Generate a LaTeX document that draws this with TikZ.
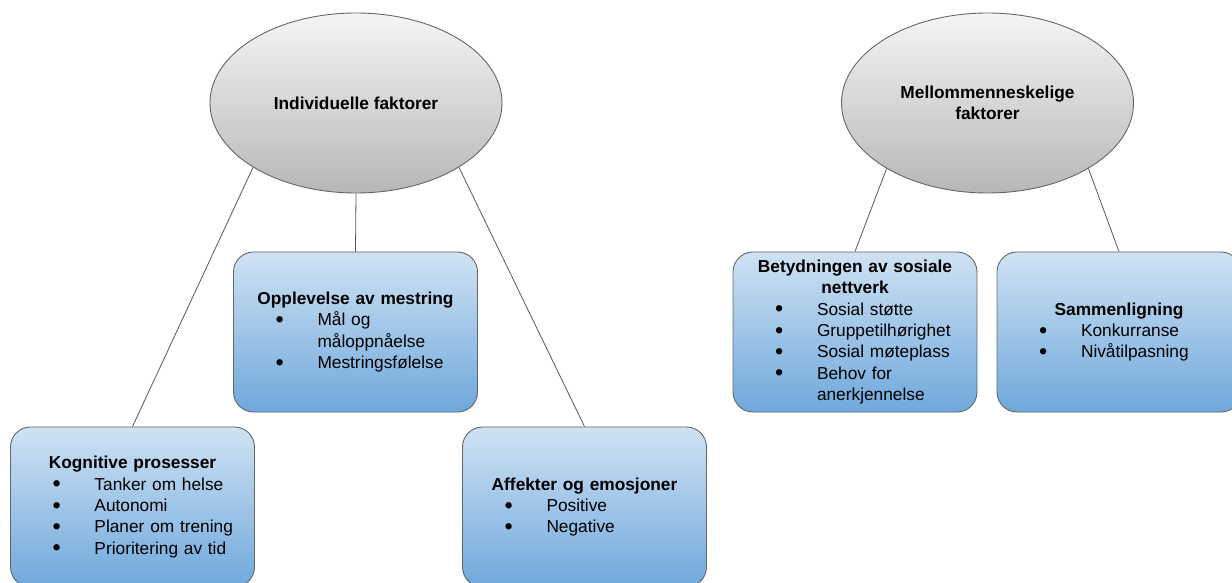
\documentclass[tikz,border=0pt]{standalone}
\usepackage{fontspec}
\setmainfont{Liberation Sans}
\usetikzlibrary{shapes.geometric}
\newcommand{\diagFont}{\fontsize{17.3pt}{21.4pt}\selectfont}
\newcommand{\boxTitle}[1]{\makebox[244pt][c]{\bfseries #1}}
\newcommand{\boxItem}[1]{\makebox[84pt][l]{\hspace{42pt}\raisebox{-1.6pt}{\scalebox{1.35}{\textbullet}}}#1}
\newcommand{\boxMore}[1]{\makebox[84pt][l]{}#1}
\tikzset{
  factorEllipse/.style={ellipse,draw=borderColor,line width=0.9pt,top color=ellTop,bottom color=ellBottom,
    minimum width=292pt,minimum height=180pt,inner sep=0pt,align=center,font=\diagFont\bfseries},
  factorBox/.style={rectangle,rounded corners=20pt,draw=borderColor,line width=0.9pt,top color=boxTop,bottom color=boxBottom,
    minimum height=160pt,text width=244pt,inner sep=0pt,align=left,font=\diagFont},
  link/.style={draw=lineColor,line width=0.8pt}
}
\begin{document}
\begin{tikzpicture}[x=1pt,y=1pt]
\definecolor{fillColor}{RGB}{255,255,255}
\definecolor{borderColor}{RGB}{102,102,102}
\definecolor{lineColor}{RGB}{89,89,89}
\definecolor{ellTop}{RGB}{245,245,245}
\definecolor{ellBottom}{RGB}{183,183,183}
\definecolor{boxTop}{RGB}{207,226,243}
\definecolor{boxBottom}{RGB}{111,168,220}
\path[use as bounding box,fill=fillColor] (0,0) rectangle (1232,582);

\node[factorEllipse] (indiv) at (356.0,479.0) {Individuelle faktorer};
\node[factorEllipse] (mellom) at (987.5,479.0) {Mellommenneskelige\\faktorer};

\node[factorBox] (mestring) at (355.5,250.0) {\boxTitle{Opplevelse av mestring}\\
  \boxItem{Mål og}\\
  \boxMore{måloppnåelse}\\
  \boxItem{Mestringsfølelse}};

\node[factorBox] (kognitiv) at (132.5,75.0) {\boxTitle{Kognitive prosesser}\\
  \boxItem{Tanker om helse}\\
  \boxItem{Autonomi}\\
  \boxItem{Planer om trening}\\
  \boxItem{Prioritering av tid}};

\node[factorBox] (affekt) at (584.5,75.0) {\boxTitle{Affekter og emosjoner}\\
  \boxItem{Positive}\\
  \boxItem{Negative}};

\node[factorBox] (nettverk) at (855.0,250.0) {\boxTitle{Betydningen av sosiale}\\
  \boxTitle{nettverk}\\
  \boxItem{Sosial støtte}\\
  \boxItem{Gruppetilhørighet}\\
  \boxItem{Sosial møteplass}\\
  \boxItem{Behov for}\\
  \boxMore{anerkjennelse}};

\node[factorBox] (sammen) at (1119.0,250.0) {\boxTitle{Sammenligning}\\
  \boxItem{Konkurranse}\\
  \boxItem{Nivåtilpasning}};

\path[link] (indiv.212) -- (kognitiv.north);
\path[link] (indiv.south) -- (mestring.north);
\path[link] (indiv.328) -- (affekt.north);
\path[link] (mellom.213) -- (nettverk.north);
\path[link] (mellom.327) -- (sammen.north);
\end{tikzpicture}
\end{document}
